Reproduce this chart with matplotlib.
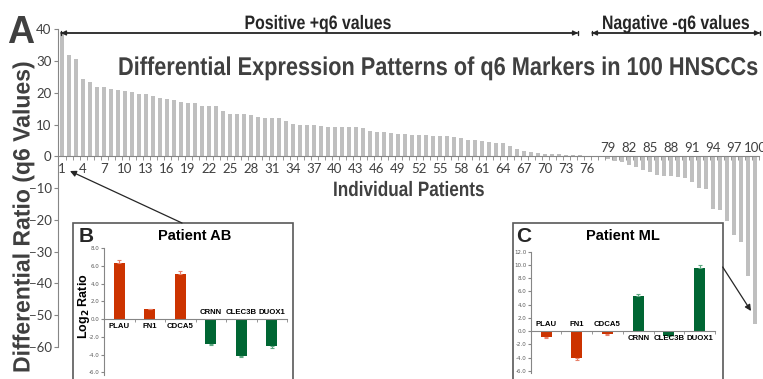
import numpy as np
import matplotlib
matplotlib.use('Agg')
import matplotlib.pyplot as plt
from matplotlib.patches import Rectangle, FancyArrowPatch
from matplotlib.patheffects import AbstractPathEffect
from matplotlib.transforms import Affine2D

# q6 differential ratio for each of the 100 patients (sorted)
q6_values = [
    39.0, 32.0, 30.8, 24.2, 23.4, 21.8, 21.7, 21.3, 21.0, 20.5,
    20.3, 19.6, 19.5, 19.0, 18.3, 18.0, 17.9, 17.1, 16.8, 16.8,
    15.9, 15.8, 15.8, 14.3, 13.4, 13.3, 13.3, 12.9, 12.5, 12.2,
    12.1, 12.1, 11.1, 10.3, 9.9, 9.8, 9.8, 9.7, 9.4, 9.4,
    9.3, 9.3, 9.2, 8.9, 8.1, 7.8, 7.6, 7.3, 7.1, 6.9,
    6.8, 6.7, 6.6, 6.5, 6.5, 6.3, 6.1, 5.8, 5.3, 5.2,
    4.9, 4.4, 4.2, 4.1, 3.4, 2.3, 1.6, 1.3, 1.2, 0.8,
    0.7, 0.6, 0.5, 0.4, 0.3, 0.2, 0.1, -0.3, -0.9, -1.3,
    -1.8, -2.6, -3.4, -4.4, -4.9, -5.8, -6.2, -6.3, -6.5, -6.7,
    -8.1, -10.0, -10.4, -16.5, -17.0, -20.4, -24.9, -27.0, -37.5, -52.8,
]
patients = list(range(1, 101))
pos_labels = list(range(1, 77, 3))
neg_labels = list(range(79, 101, 3))
y_ticks = list(range(-60, 41, 10))

# marker panels
markers = ['PLAU', 'FN1', 'CDCA5', 'CRNN', 'CLEC3B', 'DUOX1']
ab_values = [6.35, 1.1, 5.1, -2.8, -4.1, -3.05]
ab_err = [0.3, 0.1, 0.3, 0.15, 0.15, 0.15]
ml_values = [-0.85, -4.1, -0.45, 5.35, -0.65, 9.6]
ml_err = [0.1, 0.25, 0.1, 0.3, 0.1, 0.45]

W, H = 763, 379
ARIAL = ['Liberation Sans', 'DejaVu Sans']
LATO = ['Lato', 'DejaVu Sans']
DARK = '#404040'
GRAY = '#868686'
RED = '#CC3300'
GREEN = '#006633'


def fx(px):
    return px / W


def fy(py):
    return 1 - py / H


class Squeeze(AbstractPathEffect):
    # narrow the glyphs around a fixed point (stand-in for Arial Narrow)
    def __init__(self, sx, sy, cx, cy):
        super().__init__()
        self.tr = Affine2D().translate(-cx, -cy).scale(sx, sy).translate(cx, cy)

    def draw_path(self, renderer, gc, tpath, affine, rgbFace=None):
        renderer.draw_path(gc, tpath, affine + self.tr, rgbFace)


fig = plt.figure(figsize=(W / 100, H / 100), dpi=100)
renderer = fig.canvas.get_renderer()


def heading(x, y, s, size, length, vertical=False, **kw):
    t = fig.text(fx(x), fy(y), s, fontsize=size, fontweight='bold', family=ARIAL,
                 rotation=90 if vertical else 0, **kw)
    bb = t.get_window_extent(renderer)
    k = length / (bb.height if vertical else bb.width)
    sx, sy = (1, k) if vertical else (k, 1)
    t.set_path_effects([Squeeze(sx, sy, x, H - y)])
    return t


# ---- main chart
ax = fig.add_axes([fx(58.5), fy(347), 700 / W, (347 - 29.3) / H], zorder=0)
ax.bar(patients, q6_values, width=0.45, color='#BFBFBF')
ax.set_xlim(0.5, 100.5)
ax.set_ylim(-60, 40)
for s in ['top', 'right']:
    ax.spines[s].set_visible(False)
ax.spines['bottom'].set_position(('data', 0))
ax.spines['bottom'].set_color(GRAY)
ax.spines['left'].set_color(GRAY)
ax.set_yticks(y_ticks)
ax.tick_params(axis='y', length=3, color=GRAY, pad=2, labelsize=9.5, labelcolor=DARK)
for t in ax.get_yticklabels():
    t.set_family(LATO)
ax.set_xticks(pos_labels)
ax.set_xticklabels([str(p) for p in pos_labels], family=LATO)
ax.tick_params(axis='x', length=0, pad=5, labelsize=9.5, labelcolor=DARK)
ax.set_xticks(np.arange(0.5, 101, 1), minor=True)
ax.tick_params(axis='x', which='minor', length=3, color=GRAY)
for p in neg_labels:
    ax.annotate(str(p), xy=(p, 0), xytext=(0, 2), textcoords='offset points',
                ha='center', va='bottom', fontsize=9.5, color=DARK, family=LATO)

# headings
fig.text(fx(7), fy(43), 'A', fontsize=27, fontweight='bold', color=DARK,
         family=ARIAL, va='baseline')
heading(439, 75, 'Differential Expression Patterns of q6 Markers in 100 HNSCCs',
        18.5, 642, color=DARK, ha='center', va='baseline')
heading(318, 29, 'Positive +q6 values', 14, 147, color='#262626',
        ha='center', va='baseline')
heading(676, 29, 'Nagative -q6 values', 14, 148, color='#262626',
        ha='center', va='baseline')
heading(409, 196, 'Individual Patients', 15, 152, color=DARK,
        ha='center', va='baseline')
heading(23, 217, 'Differential Ratio (q6 Values)', 17, 312, vertical=True,
        color=DARK, ha='center', va='center')

# range arrows
for x0, x1 in [(61, 578), (592, 760)]:
    for style in ['<|-|>', '|-|,widthA=0.25,widthB=0.25']:
        fig.add_artist(FancyArrowPatch((fx(x0), fy(33)), (fx(x1), fy(33)),
                                       transform=fig.transFigure, arrowstyle=style,
                                       mutation_scale=7, color='#262626', lw=1,
                                       shrinkA=0, shrinkB=0))

# ---- inset frames
for x0, x1 in [(72.7, 293), (512.7, 722.7)]:
    fig.add_artist(Rectangle((fx(x0), -0.05), (x1 - x0) / W, fy(223) + 0.05,
                             transform=fig.transFigure, facecolor='white',
                             edgecolor='#595959', lw=1.2, zorder=1))

# pointer arrows
fig.add_artist(FancyArrowPatch((fx(182), fy(223)), (fx(70), fy(171)),
                               transform=fig.transFigure, arrowstyle='-|>',
                               mutation_scale=9, color='#262626', lw=0.9,
                               shrinkA=0, shrinkB=0, zorder=3))
fig.add_artist(FancyArrowPatch((fx(722.7), fy(267)), (fx(751), fy(311)),
                               transform=fig.transFigure, arrowstyle='-|>',
                               mutation_scale=9, color='#262626', lw=0.9,
                               shrinkA=0, shrinkB=0, zorder=3))


def marker_panel(rect, values, errs, ylim, yticks, sides):
    a = fig.add_axes(rect, zorder=2)
    a.set_facecolor('none')
    x = np.arange(len(markers))
    colors = [RED] * 3 + [GREEN] * 3
    ecolors = ['#E8806A'] * 3 + ['#5FA882'] * 3
    for i in x:
        v = values[i]
        yerr = [[0], [errs[i]]] if v > 0 else [[errs[i]], [0]]
        a.bar(i, v, width=0.36, color=colors[i])
        a.errorbar(i, v, yerr=yerr, ecolor=ecolors[i], elinewidth=0.8,
                   capsize=1.2, capthick=0.8, fmt='none')
    a.set_xlim(-0.5, len(markers) - 0.5)
    a.set_ylim(*ylim)
    a.set_yticks(yticks)
    a.set_yticklabels(['%.1f' % t for t in yticks])
    a.tick_params(axis='y', length=2, color=GRAY, labelsize=4,
                  labelcolor='#595959', pad=1)
    a.set_xticks([])
    a.set_xticks(np.arange(-0.5, len(markers), 1), minor=True)
    a.tick_params(axis='x', which='minor', length=2, color=GRAY)
    for s in ['top', 'right']:
        a.spines[s].set_visible(False)
    a.spines['bottom'].set_position(('data', 0))
    a.spines['bottom'].set_color(GRAY)
    a.spines['left'].set_color(GRAY)
    for i, name in enumerate(markers):
        up = sides[i] == 'above'
        a.annotate(name, xy=(i, 0), xytext=(0, 2.5 if up else -3),
                   textcoords='offset points', ha='center',
                   va='bottom' if up else 'top', fontsize=5.6, fontweight='bold',
                   family=ARIAL)
    return a


ab = marker_panel([fx(104), fy(375), 183 / W, (375 - 248.3) / H], ab_values, ab_err,
                  (-6.3, 8), list(np.arange(-6, 8.1, 2)),
                  ['below'] * 3 + ['above'] * 3)
fig.text(fx(84), fy(306), r'Log$_\mathbf{2}$ Ratio', fontsize=9, fontweight='bold',
         family=ARIAL, rotation=90, ha='center', va='center', zorder=3)
fig.text(fx(79), fy(242), 'B', fontsize=15, fontweight='bold', color='#262626',
         family=ARIAL, va='baseline', zorder=3)
fig.text(fx(195), fy(240), 'Patient AB', fontsize=10.5, fontweight='bold',
         family=ARIAL, ha='center', va='baseline', zorder=3)

ml = marker_panel([fx(530.7), fy(373), 184.3 / W, (373 - 251.7) / H], ml_values, ml_err,
                  (-6.3, 12), list(np.arange(-6, 12.1, 2)),
                  ['above'] * 3 + ['below'] * 3)
fig.text(fx(516), fy(242), 'C', fontsize=15, fontweight='bold', color='#262626',
         family=ARIAL, va='baseline', zorder=3)
fig.text(fx(623), fy(240), 'Patient ML', fontsize=10.5, fontweight='bold',
         family=ARIAL, ha='center', va='baseline', zorder=3)

fig.savefig('out.png', dpi=100)
